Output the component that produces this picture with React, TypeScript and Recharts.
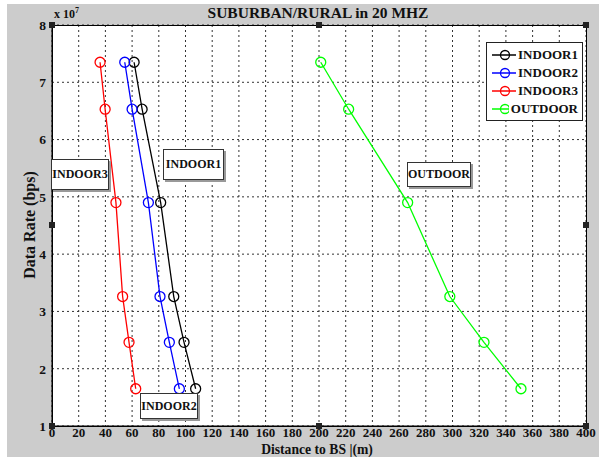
import React from "react";
import {
  LineChart,
  Line,
  XAxis,
  YAxis,
  CartesianGrid,
  Legend,
} from "recharts";

const rates = [7.35e7, 6.53e7, 4.9e7, 3.26e7, 2.46e7, 1.65e7];
const indoor1 = [61.5, 67.5, 81.4, 91.2, 98.9, 107.6];
const indoor2 = [54.5, 60, 72.2, 80.9, 87.9, 95.4];
const indoor3 = [36, 39.8, 47.9, 52.9, 57.7, 62.7];
const outdoor = [201.3, 222.2, 266.4, 298, 323.6, 351.3];

const xTicks = [0, 20, 40, 60, 80, 100, 120, 140, 160, 180, 200, 220, 240, 260, 280, 300, 320, 340, 360, 380, 400];
const yTicks = [1e7, 2e7, 3e7, 4e7, 5e7, 6e7, 7e7, 8e7];

const series = [
  { name: "INDOOR1", xs: indoor1, color: "#000000" },
  { name: "INDOOR2", xs: indoor2, color: "#0000ff" },
  { name: "INDOOR3", xs: indoor3, color: "#ff0000" },
  { name: "OUTDOOR", xs: outdoor, color: "#00ff00" },
];

const serif = "'Liberation Serif', 'Times New Roman', serif";

const toPoints = (xs: number[]) => xs.map((x, i) => ({ x, y: rates[i] }));

function LegendBox(props: any) {
  const items = props.payload || [];
  return (
    <div
      style={{
        border: "1px solid #222",
        background: "#fff",
        padding: "3px 4px 2px 4px",
        fontFamily: serif,
        fontWeight: "bold",
        fontSize: 13,
        width: 87,
        boxSizing: "content-box",
      }}
    >
      {items.map((it: any) => (
        <div key={it.value} style={{ display: "flex", alignItems: "center", height: 18 }}>
          <svg width={28} height={12} style={{ marginRight: 2 }}>
            <line x1={1} y1={6} x2={27} y2={6} stroke={it.color} strokeWidth={1.5} />
            <circle cx={14} cy={6} r={4.5} fill="none" stroke={it.color} strokeWidth={1.3} />
          </svg>
          <span style={{ color: "#111" }}>{it.value}</span>
        </div>
      ))}
    </div>
  );
}

const boxStyle = (left: number, top: number, w: number, h: number): React.CSSProperties => ({
  position: "absolute",
  left,
  top,
  width: w,
  height: h,
  boxSizing: "border-box",
  border: "1px solid #333",
  boxShadow: "2px 2px 0 #999",
  background: "#fff",
  fontFamily: serif,
  fontWeight: "bold",
  fontSize: 12,
  display: "flex",
  alignItems: "center",
  justifyContent: "center",
  color: "#111",
});

const handle = (x: number, y: number): React.CSSProperties => ({
  position: "absolute",
  left: x - 3,
  top: y - 3,
  width: 6,
  height: 6,
  background: "#222",
});

export default function App() {
  return (
    <div style={{ position: "absolute", left: 0, top: 0, width: 605, height: 457, background: "#fff" }}>
      <div style={{ position: "absolute", left: 7, top: 4, width: 592, height: 453, background: "#cccccc" }} />
      <div style={{ position: "absolute", left: 52, top: 25, width: 534, height: 401, background: "#fff" }} />
      <div style={{ position: "absolute", left: 0, top: 0 }}>
        <LineChart width={605} height={457} margin={{ top: 25, right: 19, bottom: 1, left: 12 }}>
          <CartesianGrid stroke="#333" strokeDasharray="2 3" strokeWidth={1} />
          <XAxis
            type="number"
            dataKey="x"
            domain={[0, 400]}
            ticks={xTicks}
            interval={0}
            height={30}
            tickLine={false}
            axisLine={{ stroke: "#000" }}
            tick={{ fill: "#111", fontSize: 13, fontWeight: "bold", fontFamily: serif }}
            tickMargin={-4}
          />
          <YAxis
            type="number"
            dataKey="y"
            domain={[1e7, 8e7]}
            ticks={yTicks}
            interval={0}
            width={40}
            tickLine={false}
            axisLine={{ stroke: "#000" }}
            tickFormatter={(v: number) => String(Math.round(v / 1e7))}
            tick={{ fill: "#111", fontSize: 13.5, fontWeight: "bold", fontFamily: serif }}
            tickMargin={0}
          />
          <Legend
            layout="horizontal"
            verticalAlign="middle"
            align="center"
            content={<LegendBox />}
            wrapperStyle={{ position: "absolute", top: 42, left: 486, width: "auto" }}
          />
          {series.map((s) => (
            <Line
              key={s.name}
              name={s.name}
              data={toPoints(s.xs)}
              dataKey="y"
              type="linear"
              stroke={s.color}
              strokeWidth={1.3}
              dot={{ r: 5, fill: "none", stroke: s.color, strokeWidth: 1.3 }}
              activeDot={false}
              isAnimationActive={false}
            />
          ))}
        </LineChart>
      </div>
      <div style={{ position: "absolute", left: 52, top: 25, width: 535, height: 402, border: "1px solid #000", boxSizing: "border-box", pointerEvents: "none" }} />
      {[[52, 25], [319, 25], [586, 25], [52, 426], [319, 426], [586, 426], [52, 225], [586, 225]].map(([x, y], i) => (
        <div key={i} style={handle(x, y)} />
      ))}
      <div style={{ position: "absolute", left: 0, width: 636, top: 4, textAlign: "center", fontFamily: serif, fontWeight: "bold", fontSize: 15.5, color: "#111" }}>
        SUBURBAN/RURAL in 20 MHZ
      </div>
      <div style={{ position: "absolute", left: 54, top: 6, fontFamily: serif, fontWeight: "bold", fontSize: 12, color: "#111" }}>
        x 10<sup style={{ fontSize: 8 }}>7</sup>
      </div>
      <div
        style={{
          position: "absolute",
          left: 217,
          width: 200,
          top: 441,
          textAlign: "center",
          fontFamily: serif,
          fontWeight: "bold",
          fontSize: 15.5,
          lineHeight: "15px",
          color: "#111",
          transform: "scaleX(0.88)",
        }}
      >
        Distance to BS |(m)
      </div>
      <div
        style={{
          position: "absolute",
          left: 30 - 80,
          top: 225 - 10,
          width: 160,
          height: 20,
          lineHeight: "20px",
          textAlign: "center",
          transform: "rotate(-90deg)",
          fontFamily: serif,
          fontWeight: "bold",
          fontSize: 16,
          color: "#111",
        }}
      >
        Data Rate (bps)
      </div>
      <div style={boxStyle(51, 159, 58, 31)}>INDOOR3</div>
      <div style={boxStyle(163, 149, 61, 31)}>INDOOR1</div>
      <div style={boxStyle(407, 162, 64, 25)}>OUTDOOR</div>
      <div style={boxStyle(140, 393, 58, 26)}>INDOOR2</div>
    </div>
  );
}
